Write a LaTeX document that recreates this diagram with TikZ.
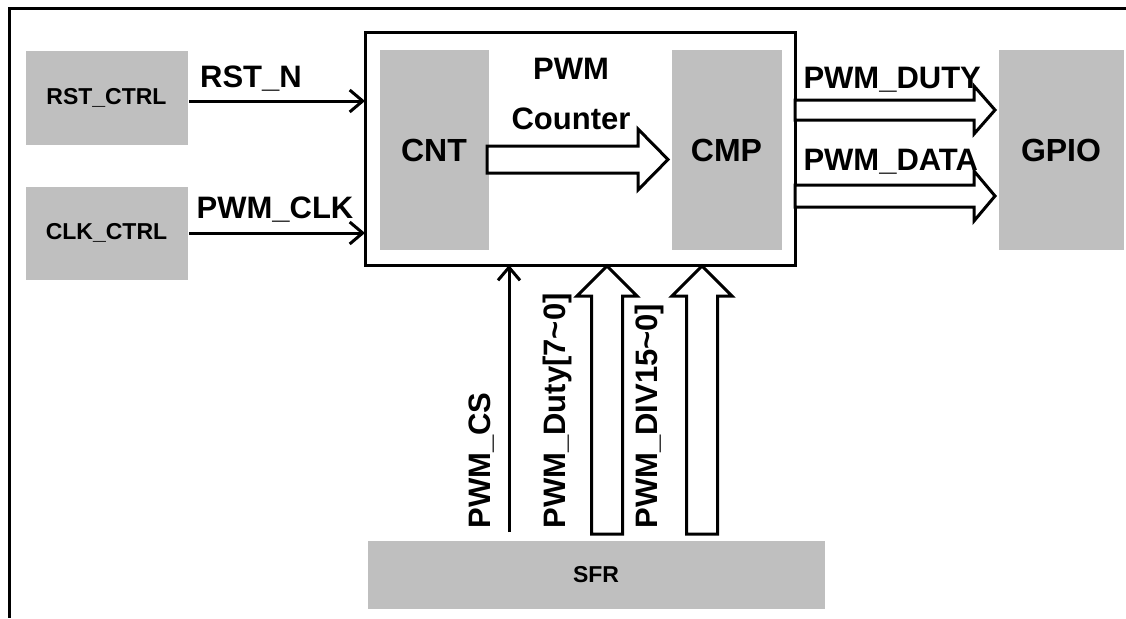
\documentclass[tikz,border=0pt]{standalone}
\usepackage{fontspec}
\setmainfont{Liberation Sans}
\usetikzlibrary{arrows.meta, positioning, calc}

\tikzset{
  fat/.style n args={3}{to path={
    let \p1=($(\tikztotarget)!#3!(\tikztostart)$) in
    ($(\tikztostart)!#1!90:(\tikztotarget)$) -- ($(\p1)!#1!90:(\tikztotarget)$)
    -- ($(\p1)!#2!90:(\tikztotarget)$) -- (\tikztotarget)
    -- ($(\p1)!#2!-90:(\tikztotarget)$) -- ($(\p1)!#1!-90:(\tikztotarget)$)
    -- ($(\tikztostart)!#1!-90:(\tikztotarget)$) -- cycle}},
}

\begin{document}
\begin{tikzpicture}[x=1pt, y=-1pt, line width=3pt,
  >={Straight Barb[length=13pt, width=22pt]},
  blk/.style={fill=black!25, inner sep=0pt, anchor=north west,
              font=\bfseries\fontsize{32}{38}\selectfont},
  ctl/.style={blk, minimum width=162pt, minimum height=93pt,
              font=\bfseries\fontsize{23}{27}\selectfont},
  lbl/.style={font=\bfseries\fontsize{31}{37}\selectfont, inner sep=0pt},
  hollow/.style={fill=white, line join=miter}]
  \useasboundingbox (0,0) rectangle (1126,618);
  \draw (1126,9) -- (9,9) -- (9,618);

  % control blocks
  \node[ctl] (rst) at (24,50) {RST\_CTRL};
  \node[ctl] (clk) at (24,185) {CLK\_CTRL};
  \node[ctl, minimum width=457pt, minimum height=68pt] (sfr) at (366,539) {SFR};

  % pwm block
  \node[draw, anchor=north west, minimum width=430pt, minimum height=232pt,
        inner sep=0pt, outer sep=0pt] (pwm) at (365,33) {};
  \node[blk, minimum width=109pt, minimum height=199pt] (cnt) at (378,49) {CNT};
  \node[blk, minimum width=110pt, minimum height=199pt] (cmp) at (670,49) {CMP};
  \node[blk, minimum width=125pt, minimum height=199pt] (gpio) at (997,49) {GPIO};

  % inputs
  \draw[->] ([yshift=-3pt]rst.east) -- ([yshift=-3pt]rst.east -| pwm.west);
  \draw[->] (clk.east) -- (clk.east -| pwm.west);
  \node[lbl, anchor=base] (rstn) at (251,87) {RST\_N};
  \node[lbl, anchor=base] (pwmclk) at (275,218) {PWM\_CLK};

  % counter -> compare
  \coordinate (ctrA) at (487,159.5);
  \coordinate (ctrB) at (668,159.5);
  \draw[hollow, fat={13.5pt}{30.5pt}{30pt}] (ctrA) to (ctrB);
  \node[lbl, align=center, font=\bfseries\fontsize{31}{50}\selectfont] (ctrtxt) at (571,94) {PWM\\Counter};

  % outputs
  \coordinate (dutyA) at (795,110);
  \coordinate (dutyB) at (995,110);
  \coordinate (dataA) at (795,196);
  \coordinate (dataB) at (995,196);
  \draw[hollow, fat={10pt}{24pt}{21pt}] (dutyA) to (dutyB);
  \draw[hollow, fat={11pt}{25pt}{21pt}] (dataA) to (dataB);
  \node[lbl, anchor=base west] (dutytxt) at (802,88) {PWM\_DUTY};
  \node[lbl, anchor=base west] (datatxt) at (802,170) {PWM\_DATA};

  % sfr
  \coordinate (csA) at (509,532);
  \draw[->] (csA) -- (csA |- pwm.south);
  \coordinate (dutyinA) at (607,534);
  \coordinate (dutyinB) at (607,266);
  \coordinate (divA) at (702,534);
  \coordinate (divB) at (702,266);
  \draw[hollow, fat={15.5pt}{30pt}{30pt}] (dutyinA) to (dutyinB);
  \draw[hollow, fat={15.5pt}{30pt}{30pt}] (divA) to (divB);
  \node[lbl, rotate=90, anchor=base west] (cstxt) at (490,530) {PWM\_CS};
  \node[lbl, rotate=90, anchor=base west] (dutyintxt) at (565,530) {PWM\_Duty[7\textasciitilde0]};
  \node[lbl, rotate=90, anchor=base west] (divtxt) at (657,530) {PWM\_DIV15\textasciitilde0]};
\end{tikzpicture}
\end{document}
